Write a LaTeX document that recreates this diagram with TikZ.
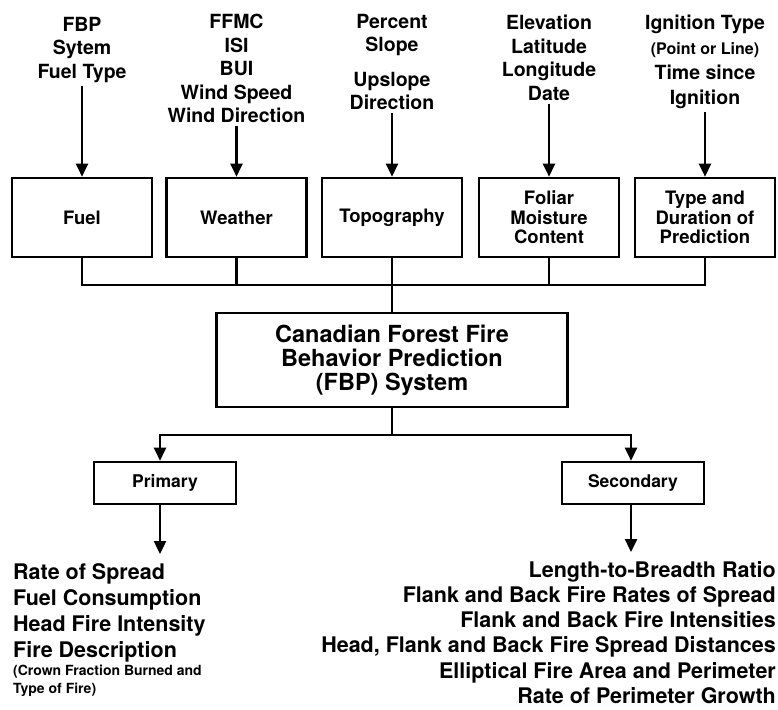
\documentclass[tikz,border=0pt]{standalone}
\usepackage{fontspec}
\setmainfont{TeX Gyre Heros}
\usetikzlibrary{arrows.meta}
\newcommand{\fsz}[2]{\fontsize{#1}{#2}\selectfont}
\begin{document}
\begin{tikzpicture}[x=1pt,y=-1pt,
  box/.style={draw,line width=2.6pt,minimum width=140pt,minimum height=79pt,align=center,inner sep=0pt,font=\bfseries\fsz{18.5}{19.5}},
  smallbox/.style={draw,line width=2.6pt,minimum width=142pt,minimum height=42pt,inner sep=0pt,font=\bfseries\fsz{17.5}{19}},
  mainbox/.style={draw,line width=2.6pt,minimum width=351pt,minimum height=94pt,align=center,inner sep=0pt,font=\bfseries\fsz{23.5}{24}},
  intext/.style={align=center,anchor=north,inner xsep=0pt,inner ysep=3pt,font=\bfseries\fsz{19.5}{23.5}},
  listtext/.style={inner xsep=0pt,inner ysep=9pt,font=\bfseries\fsz{21.5}{26}},
  conn/.style={line width=2.4pt},
  arr/.style={conn,-{Triangle[length=13pt,width=12pt]}}]
\useasboundingbox (0,0) rectangle (778,709);

% input boxes
\node[box] (fuel) at (82,217.5) {Fuel};
\node[box] (weather) at (236.5,217.5) {Weather};
\node[box] (topo) at (392,217.5) {Topography};
\node[box] (foliar) at (549,217.5) {Foliar\\Moisture\\Content};
\node[box] (type) at (705,217.5) {Type and\\Duration of\\Prediction};

% input texts
\node[intext] (fuelin) at (82,14) {FBP\\Sytem\\Fuel Type};
\node[intext] (weatherin) at (236.5,11) {FFMC\\ISI\\BUI\\Wind Speed\\Wind Direction};
\node[intext] (topoin) at (392,11) {Percent\\Slope\\[11pt]Upslope\\Direction};
\node[intext] (foliarin) at (549,12) {Elevation\\Latitude\\Longitude\\Date};
\node[intext,font=\bfseries\fsz{19.5}{25}] (typein) at (705,12) {Ignition Type\\{\fsz{16}{18}(Point or Line)}\\Time since\\Ignition};

\draw[arr] (fuelin.south) -- (fuel.north);
\draw[arr] (weatherin.south) -- (weather.north);
\draw[arr] (topoin.south) -- (topo.north);
\draw[arr] (foliarin.south) -- (foliar.north);
\draw[arr] (typein.south) -- (type.north);

% main box
\node[mainbox] (main) at (392,360) {Canadian Forest Fire\\Behavior Prediction\\(FBP) System};

\coordinate (bus) at (392,285);
\draw[conn] (fuel.south) |- (bus) -| (type.south);
\draw[conn] (weather.south) -- (weather.south |- bus);
\draw[conn] (foliar.south) -- (foliar.south |- bus);
\draw[conn] (topo.south) -- (main.north);

% outputs
\node[smallbox] (prim) at (165,483) {Primary};
\node[smallbox] (sec) at (633,483) {Secondary};

\coordinate (bus2) at (392,435);
\draw[conn] (main.south) -- (bus2);
\draw[arr] (bus2) -| ([xshift=-5pt]prim.north);
\draw[arr] (bus2) -| ([xshift=-2pt]sec.north);

\node[listtext,anchor=north west,align=left] (primlist) at (13,554) {Rate of Spread\\Fuel Consumption\\Head Fire Intensity\\Fire Description};
\node[anchor=north west,align=left,inner sep=0pt,font=\bfseries\fsz{14}{18}] (primnote) at (13,665) {(Crown Fraction Burned and\\Type of Fire)};

\node[listtext,anchor=north east,align=right,font=\bfseries\fsz{21.5}{25.2}] (seclist) at (776,552) {Length-to-Breadth Ratio\\Flank and Back Fire Rates of Spread\\Flank and Back Fire Intensities\\Head, Flank and Back Fire Spread Distances\\Elliptical Fire Area and Perimeter\\Rate of Perimeter Growth};

\draw[arr] ([xshift=-5pt]prim.south) -- ([xshift=-5pt]prim.south |- primlist.north);
\draw[arr] ([xshift=-2pt]sec.south) -- ([xshift=-2pt]sec.south |- seclist.north);
\end{tikzpicture}
\end{document}
